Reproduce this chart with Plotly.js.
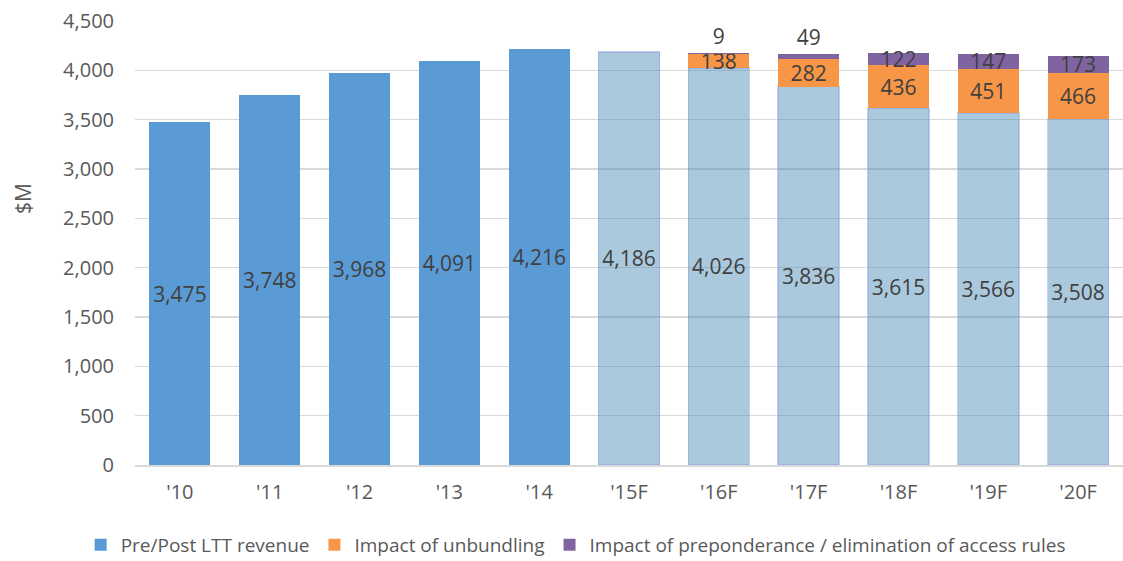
<!DOCTYPE html>
<html>
<head>
<meta charset="utf-8">
<script src="https://cdn.plot.ly/plotly-3.0.1.min.js"></script>
<style>html,body{margin:0;padding:0;background:#fff;}#chart{width:1123px;height:561px;}</style>
</head>
<body>
<div id="chart"></div>
<script>
const years = ["'10","'11","'12","'13","'14","'15F","'16F","'17F","'18F","'19F","'20F"];
const baseRevenue = [3475,3748,3968,4091,4216,4186,4026,3836,3615,3566,3508];
const unbundling = [null,null,null,null,null,null,138,282,436,451,466];
const preponderance = [null,null,null,null,null,null,9,49,122,147,173];
const isForecast = [false,false,false,false,false,true,true,true,true,true,true];

const fmt = v => (v === null ? '' : v.toLocaleString('en-US'));
const labelFont = {family: 'Open Sans, sans-serif', size: 21, color: '#404040'};

const traces = [
  {
    type: 'bar', name: 'Pre/Post LTT revenue', x: years, y: baseRevenue,
    marker: {
      color: isForecast.map(f => f ? 'rgba(68,135,177,0.45)' : '#5B9BD5'),
      line: {color: isForecast.map(f => f ? 'rgba(140,160,225,0.5)' : 'rgba(0,0,0,0)'), width: isForecast.map(f => f ? 1.5 : 0)}
    },
    text: baseRevenue.map(fmt), textposition: 'inside', insidetextanchor: 'middle',
    textangle: 0, constraintext: 'none', insidetextfont: labelFont, hoverinfo: 'x+y'
  },
  {
    type: 'bar', name: 'Impact of unbundling', x: years, y: unbundling,
    marker: {color: '#F79646'},
    text: unbundling.map(fmt), textposition: 'inside', insidetextanchor: 'middle',
    textangle: 0, constraintext: 'none', insidetextfont: labelFont
  },
  {
    type: 'bar', name: 'Impact of preponderance / elimination of access rules', x: years, y: preponderance,
    marker: {color: '#8064A2'},
    text: preponderance.map(fmt),
    textposition: preponderance.map(v => (v !== null && v < 100) ? 'outside' : 'inside'),
    insidetextanchor: 'middle', textangle: 0, constraintext: 'none',
    insidetextfont: labelFont, outsidetextfont: labelFont, cliponaxis: false
  }
];

const layout = {
  width: 1123, height: 561,
  margin: {l: 135, r: 0, t: 21, b: 96, autoexpand: false},
  barmode: 'stack', bargap: 0.32,
  paper_bgcolor: '#fff', plot_bgcolor: '#fff',
  font: {family: 'Open Sans, sans-serif', color: '#595959', size: 20},
  yaxis: {
    range: [0, 4500], dtick: 500, tickformat: ',d',
    showgrid: true, gridcolor: '#D9D9D9', gridwidth: 1.5,
    zeroline: false, showline: false, ticks: '', ticklabelstandoff: 20,
    tickfont: {family: 'Open Sans, sans-serif', size: 20, color: '#595959'}
  },
  xaxis: {
    type: 'category',
    showline: true, linecolor: '#D9D9D9', linewidth: 2, ticks: '',
    tickfont: {family: 'Open Sans, sans-serif', size: 20, color: '#595959'}, ticklabelstandoff: 8
  },
  annotations: [{
    text: '$M', xref: 'paper', yref: 'paper', x: -0.114, y: 0.60,
    xanchor: 'center', yanchor: 'middle', textangle: -90, showarrow: false,
    font: {family: 'Open Sans, sans-serif', size: 21, color: '#595959'}
  }],
  showlegend: true,
  legend: {
    orientation: 'h', x: 0.446, xanchor: 'center', y: -0.18, yanchor: 'middle',
    font: {size: 19, color: '#595959'}, traceorder: 'normal', itemwidth: 20
  }
};

Plotly.newPlot('chart', traces, layout, {staticPlot: true});
</script>
</body>
</html>
